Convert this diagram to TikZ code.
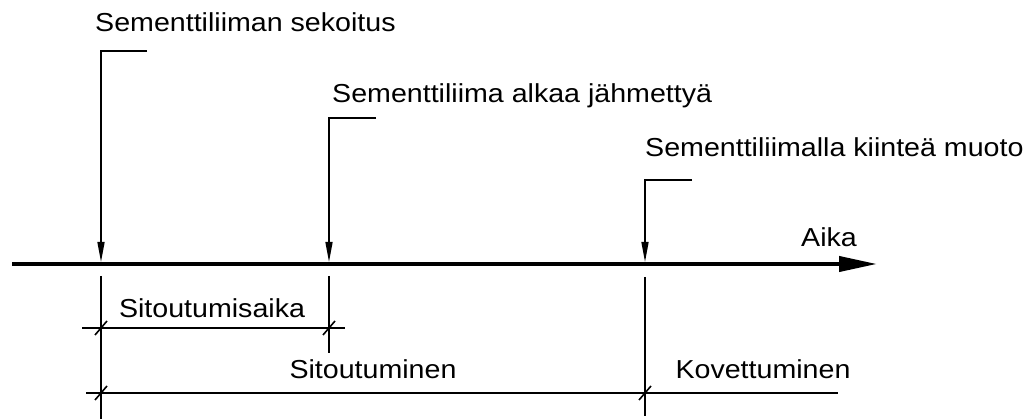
\documentclass[tikz,border=0pt]{standalone}
\usepackage{fontspec}
\setmainfont{Liberation Sans}[FakeStretch=1.1]
\usetikzlibrary{arrows.meta}
\begin{document}
\begin{tikzpicture}[x=1pt,y=-1pt,
  lbl/.style={anchor=base west, inner sep=0pt, font=\fontsize{26}{30}\selectfont},
  clbl/.style={anchor=base, inner sep=0pt, font=\fontsize{26}{30}\selectfont},
  thinline/.style={line width=1.5pt},
  marker/.style={line width=1.5pt, -{Triangle[length=20pt,width=7pt]}},
  axisline/.style={line width=4pt, -{Triangle[length=38pt,width=15pt]}},
  tickmark/.style={line width=1.6pt}]
\useasboundingbox (0,0) rectangle (1030,419);
% axis
\coordinate (a0) at (12,264);
\coordinate (a1) at (877,264);
\draw[axisline] (a0) -- (a1);
\node[clbl] (aika) at (829,247) {Aika};
% event markers
\coordinate (h1) at (147,51);  \coordinate (c1) at (101,51);  \coordinate (p1) at (101,262);
\coordinate (h2) at (376,118); \coordinate (c2) at (329,118); \coordinate (p2) at (329,262);
\coordinate (h3) at (692,180); \coordinate (c3) at (645,180); \coordinate (p3) at (645,262);
\draw[marker] (h1) -- (c1) -- (p1);
\draw[marker] (h2) -- (c2) -- (p2);
\draw[marker] (h3) -- (c3) -- (p3);
\node[lbl] (l1) at (95,32) {Sementtiliiman sekoitus};
\node[lbl] (l2) at (332,103) {Sementtiliima alkaa jähmettyä};
\node[lbl] (l3) at (645,157) {Sementtiliimalla kiinteä muoto};
% extension lines below axis
\coordinate (e1a) at (101,276); \coordinate (e1b) at (101,419);
\coordinate (e2a) at (329,276); \coordinate (e2b) at (329,353);
\coordinate (e3a) at (645,277); \coordinate (e3b) at (645,416);
\draw[thinline] (e1a) -- (e1b);
\draw[thinline] (e2a) -- (e2b);
\draw[thinline] (e3a) -- (e3b);
% dimension lines
\coordinate (d1a) at (82,328); \coordinate (d1b) at (345,328);
\coordinate (t11) at (101,328); \coordinate (t12) at (329,328);
\draw[thinline] (d1a) -- (d1b);
\coordinate (d2a) at (86,393); \coordinate (d2b) at (838,393);
\coordinate (t21) at (101,393); \coordinate (t22) at (645,393);
\draw[thinline] (d2a) -- (d2b);
\foreach \t in {t11,t12,t21,t22}
  \draw[tickmark] ([shift={(-6,7)}]\t) -- ([shift={(6,-7)}]\t);
\node[clbl] (s1) at (212,318) {Sitoutumisaika};
\node[clbl] (s2) at (373,378) {Sitoutuminen};
\node[clbl] (s3) at (763,378) {Kovettuminen};
\end{tikzpicture}
\end{document}
